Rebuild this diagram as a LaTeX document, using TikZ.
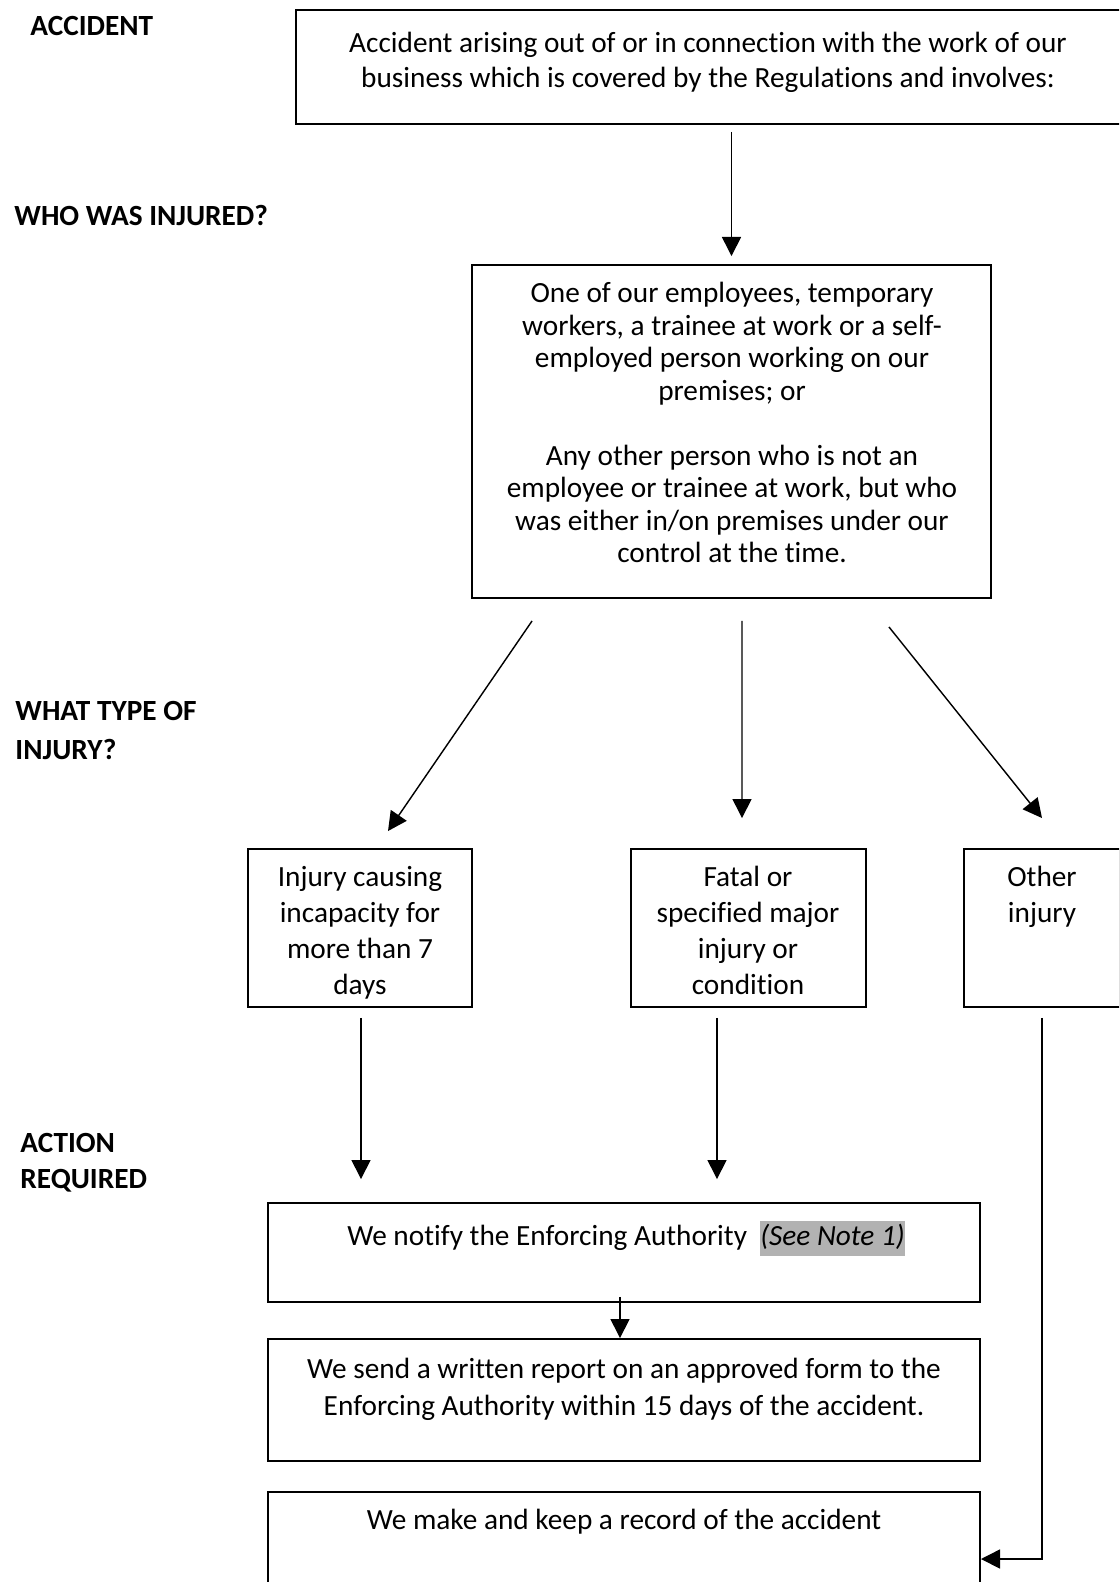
\documentclass[tikz,border=0pt]{standalone}
\usepackage{fontspec}
\setmainfont{Carlito}[Ligatures={NoCommon}]
\usetikzlibrary{arrows.meta,calc}
\begin{document}
\begin{tikzpicture}[x=0.42pt,y=-0.42pt,
  box/.style={draw, line width=0.8pt, inner sep=0pt},
  txt/.style={font=\fontsize{12.3pt}{14.7pt}\selectfont, align=center, inner sep=0pt, anchor=north},
  lab/.style={font=\fontsize{12.3pt}{15pt}\selectfont\bfseries, align=left, inner sep=0pt, anchor=north west},
  arr/.style={line width=0.6pt, -{Triangle[length=8pt,width=8pt]}}]
\useasboundingbox (0,0) rectangle (1119,1582);
\clip (0,0) rectangle (1119,1582);
% boxes
\node[box, minimum width={834*0.42pt}, minimum height={114*0.42pt}] (top) at (713,67) {};
\node[box, minimum width={519*0.42pt}, minimum height={333*0.42pt}] (who) at (731.5,431.5) {};
\node[box, minimum width={224*0.42pt}, minimum height={158*0.42pt}] (inj) at (360,928) {};
\node[box, minimum width={235*0.42pt}, minimum height={158*0.42pt}] (fatal) at (748.5,928) {};
\node[box, minimum width={156*0.42pt}, minimum height={158*0.42pt}] (oth) at (1042,928) {};
\node[box, minimum width={712*0.42pt}, minimum height={99*0.42pt}] (notify) at (624,1252.5) {};
\node[box, minimum width={712*0.42pt}, minimum height={122*0.42pt}] (send) at (624,1400) {};
\node[box, minimum width={712*0.42pt}, minimum height={134*0.42pt}] (rec) at (624,1559) {};
% texts
\node[txt] (ttop) at (708,32) {Accident arising out of or in connection with the work of our\\business which is covered by the Regulations and involves:};
\node[txt, font=\fontsize{12.3pt}{13.65pt}\selectfont] (twho) at (732,282) {One of our employees, temporary\\workers, a trainee at work or a self-\\employed person working on our\\premises; or\\[13.65pt]Any other person who is not an\\employee or trainee at work, but who\\was either in/on premises under our\\control at the time.};
\node[txt, font=\fontsize{12.3pt}{15.1pt}\selectfont] (tinj) at (360,866) {Injury causing\\incapacity for\\more than 7\\days};
\node[txt, font=\fontsize{12.3pt}{15.1pt}\selectfont] (tfatal) at (748,866) {Fatal or\\specified major\\injury or\\condition};
\node[txt, font=\fontsize{12.3pt}{15.1pt}\selectfont] (toth) at (1042,866) {Other\\injury};
\node[txt] (tnotify) at (626,1221) {\setlength\fboxsep{0pt}We notify the Enforcing Authority\ \ \colorbox{gray!60}{\strut\itshape (See Note 1)}};
\node[txt, font=\fontsize{12.3pt}{15.5pt}\selectfont] (tsend) at (624,1358) {We send a written report on an approved form to the\\Enforcing Authority within 15 days of the accident.};
\node[txt] (trec) at (624,1509) {We make and keep a record of the accident};
% labels
\node[lab] (l1) at (30,16) {ACCIDENT};
\node[lab] (l2) at (14,205) {WHO WAS INJURED?};
\node[lab, font=\fontsize{12.3pt}{16.5pt}\selectfont\bfseries] (l3) at (15,701) {WHAT TYPE OF\\INJURY?};
\node[lab] (l4) at (20,1133) {ACTION\\REQUIRED};
% connectors
\draw[arr] ($(top.south -| who.north)+(0,7)$) -- ($(who.north)+(0,-8)$);
\draw[arr] ($(who.south west)+(61,22)$) -- ($(inj.north)+(28,-17)$);
\draw[arr] ($(who.south)+(10.5,22)$) -- ($(fatal.north)+(-6.5,-30)$);
\draw[arr] ($(who.south east)+(-103,28)$) -- ($(oth.north)+(0,-30)$);
\draw[arr] ($(inj.south)+(1,10)$) -- ($(inj.south |- notify.north)+(1,-23)$);
\draw[arr] ($(fatal.south)+(-31.5,10)$) -- ($(fatal.south |- notify.north)+(-31.5,-23)$);
\draw[arr] ($(notify.south)+(-4,-6)$) -- ($(send.north)+(-4,0)$);
\draw[arr] ($(oth.south)+(0,10)$) |- (rec.east);
\end{tikzpicture}
\end{document}
